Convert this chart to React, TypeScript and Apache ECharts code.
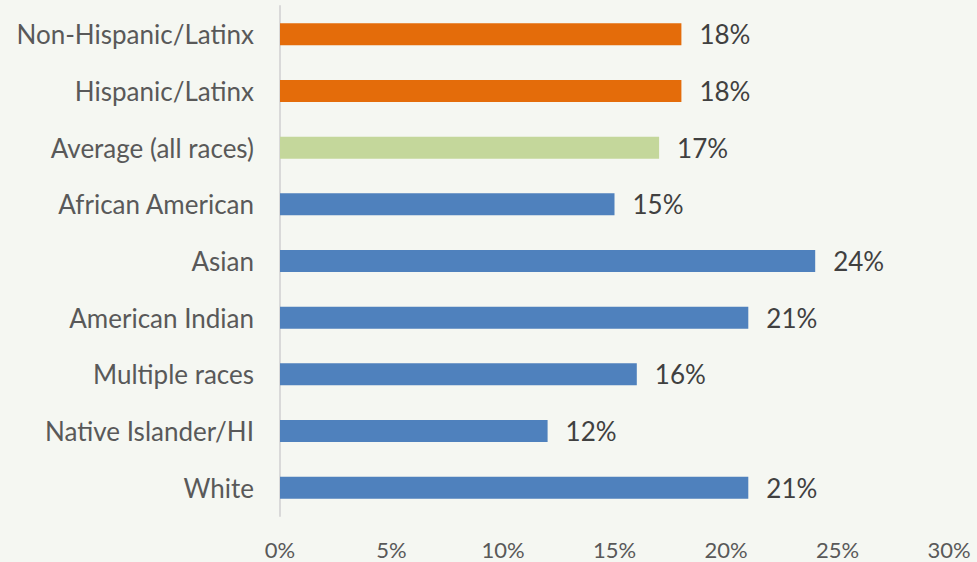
import React, { useEffect, useRef } from "react";
import * as echarts from "echarts";

const categories = [
  "Non-Hispanic/Latinx",
  "Hispanic/Latinx",
  "Average (all races)",
  "African American",
  "Asian",
  "American Indian",
  "Multiple races",
  "Native Islander/HI",
  "White",
];
const values = [18, 18, 17, 15, 24, 21, 16, 12, 21];
const groups = ["eth", "eth", "avg", "race", "race", "race", "race", "race", "race"];
const groupColors: Record<string, string> = { eth: "#E46C0A", avg: "#C4D79B", race: "#4F81BD" };
const xTicks = [0, 5, 10, 15, 20, 25, 30];

export default function App() {
  const ref = useRef<HTMLDivElement>(null);
  useEffect(() => {
    document.body.style.margin = "0";
    const chart = echarts.init(ref.current!, null, { renderer: "svg" });
    chart.setOption({
      animation: false,
      backgroundColor: "#F5F7F2",
      textStyle: { fontFamily: "Lato" },
      grid: { left: 280, right: 28, top: 6, bottom: 46 },
      xAxis: {
        type: "value",
        min: xTicks[0],
        max: xTicks[xTicks.length - 1],
        interval: 5,
        splitLine: { show: false },
        axisLine: { show: false },
        axisTick: { show: false },
        axisLabel: {
          formatter: "{value}%",
          fontSize: 22,
          color: "#595959",
          margin: 22,
          fontFamily: "Lato",
        },
      },
      yAxis: {
        type: "category",
        data: categories,
        inverse: true,
        axisLine: { show: true, lineStyle: { color: "#D9D9D9", width: 2 } },
        axisTick: { show: false },
        axisLabel: { fontSize: 26, color: "#595959", margin: 26, fontFamily: "Lato" },
      },
      series: [
        {
          type: "bar",
          barWidth: 22,
          data: values.map((v, i) => ({
            value: v,
            itemStyle: { color: groupColors[groups[i]] },
          })),
          label: {
            show: true,
            position: "right",
            distance: 18,
            formatter: "{c}%",
            fontSize: 26,
            color: "#404040",
            fontFamily: "Lato",
          },
        },
      ],
    });
    return () => chart.dispose();
  }, []);
  return (
    <div
      ref={ref}
      style={{ position: "fixed", left: 0, top: 0, width: 977, height: 562 }}
    />
  );
}
